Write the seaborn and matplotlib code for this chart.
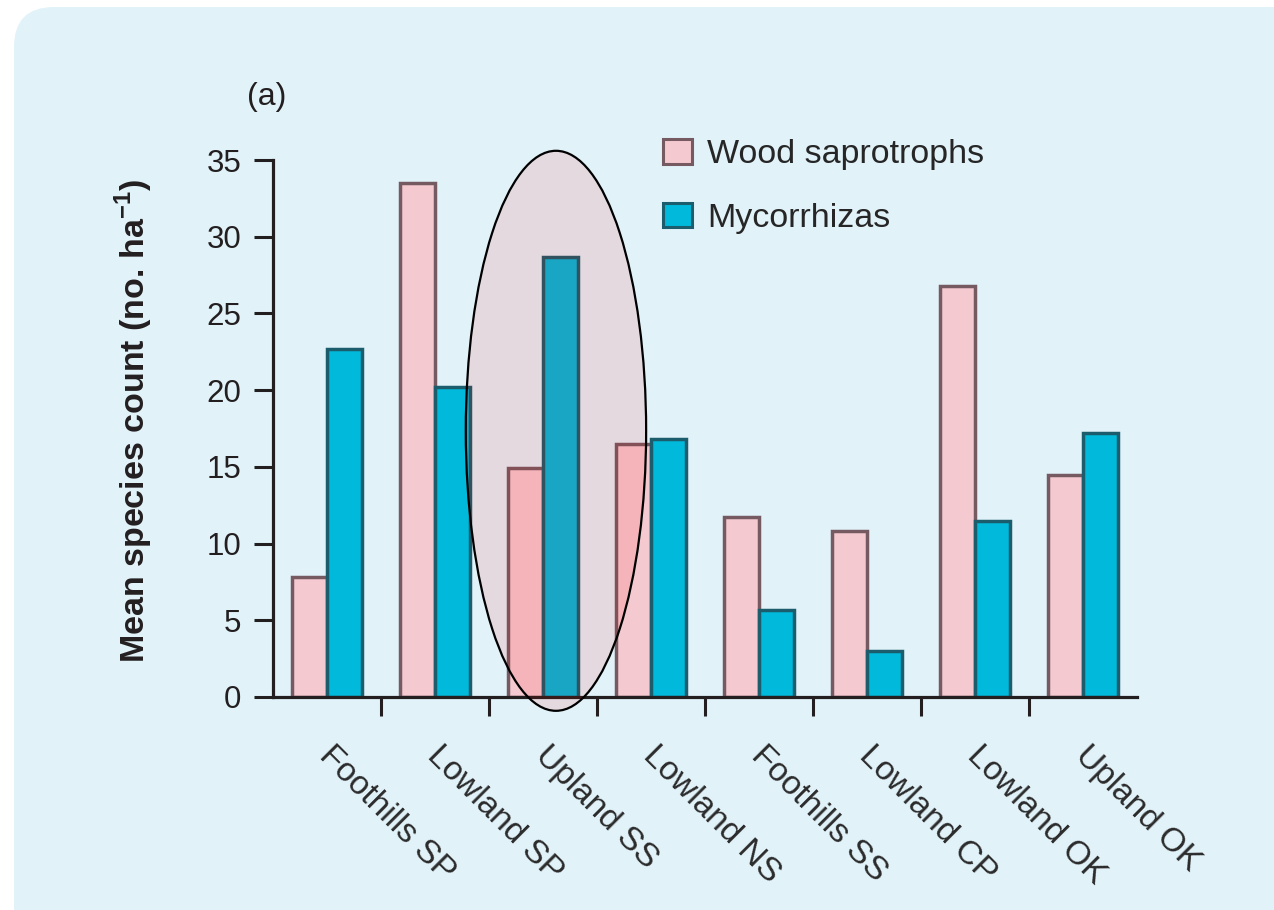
import numpy as np
import pandas as pd
import matplotlib
matplotlib.use("Agg")
import matplotlib.pyplot as plt
import matplotlib.patches as mpatches
from matplotlib.transforms import IdentityTransform, ScaledTranslation
import seaborn as sns

####################################################################################################
# data

sites = ["Foothills SP", "Lowland SP", "Upland SS", "Lowland NS",
         "Foothills SS", "Lowland CP", "Lowland OK", "Upland OK"]
wood_saprotrophs = [7.8, 33.5, 14.9, 16.5, 11.7, 10.8, 26.8, 14.5]
mycorrhizas = [22.7, 20.2, 28.7, 16.8, 5.7, 3.0, 11.5, 17.2]
groups = ["Wood saprotrophs", "Mycorrhizas"]
y_ticks = [0, 5, 10, 15, 20, 25, 30, 35]

####################################################################################################

BG = "#e1f2f9"
INK = "#231f20"
fills = {"Wood saprotrophs": "#f4c9d0", "Mycorrhizas": "#00b9db"}
edges = {"Wood saprotrophs": "#765a61", "Mycorrhizas": "#1b5d6c"}

sns.set_style("white")
plt.rcParams["font.family"] = ["Liberation Sans", "DejaVu Sans"]
plt.rcParams["mathtext.fontset"] = "custom"
plt.rcParams["mathtext.rm"] = "Liberation Sans"
plt.rcParams["mathtext.bf"] = "Liberation Sans:bold"

df = pd.DataFrame({
    "site": sites * 2,
    "count": wood_saprotrophs + mycorrhizas,
    "group": [groups[0]] * len(sites) + [groups[1]] * len(sites),
})

fig = plt.figure(figsize=(12.74, 9.10), dpi=100, facecolor="white")

# rounded light-blue panel behind everything (pixel coordinates)
panel = mpatches.FancyBboxPatch(
    (14, -60), 1320, 910 - 7 + 60,
    boxstyle="round,pad=0,rounding_size=40",
    transform=IdentityTransform(), facecolor=BG, edgecolor="none", zorder=-10,
)
fig.patches.append(panel)

ax = fig.add_axes([273 / 1274, 1 - 697 / 910, 864 / 1274, 537 / 910])
ax.set_facecolor("none")

sns.barplot(
    data=df, x="site", y="count", hue="group", order=sites, hue_order=groups,
    palette=fills, width=0.65, saturation=1, errorbar=None, ax=ax, legend=False,
    linewidth=2.5,
)
for cont, g in zip(ax.containers, groups):
    for bar in cont:
        bar.set_edgecolor(edges[g])
        bar.set_zorder(2)

ax.set_xlim(-0.5, 7.5)
ax.set_ylim(0, 35)
ax.set_yticks(y_ticks)
ax.set_xlabel("")

# highlighted Upland SS group
ell = mpatches.Ellipse((2.12, 17.35), 1.67, 36.5, facecolor=(0.96, 0.01, 0.0, 0.1),
                       edgecolor="black", linewidth=1.6, clip_on=False, zorder=5)
ax.add_patch(ell)

sns.despine(ax=ax)
for side in ["left", "bottom"]:
    ax.spines[side].set_linewidth(2.3)
    ax.spines[side].set_color(INK)

ax.tick_params(axis="y", direction="out", length=14, width=2.2, color=INK,
               labelsize=22.5, labelcolor=INK, pad=9, left=True)
ax.set_xticks(np.arange(0.5, 7, 1), minor=True)
ax.tick_params(axis="x", which="minor", direction="out", length=14, width=2.2,
               color=INK, bottom=True)
ax.tick_params(axis="x", which="major", length=0, pad=31, labelsize=24,
               labelcolor="#2b2b2b")
plt.setp(ax.get_xticklabels(), rotation=-45, ha="left", va="top",
         rotation_mode="anchor")
shift = ScaledTranslation(8 / 100, 0, fig.dpi_scale_trans)
for lab in ax.get_xticklabels():
    lab.set_transform(lab.get_transform() + shift)

ax.set_ylabel(r"Mean species count (no. ha$^{\mathbf{-1}}$)", fontsize=24.5,
              fontweight="bold", color=INK)
ax.yaxis.set_label_coords(-0.137, 0.514)

handles = [mpatches.Patch(facecolor=fills[g], edgecolor=edges[g], linewidth=2.2)
           for g in groups]
ax.legend(handles, groups, loc="upper left", bbox_to_anchor=(663 / 1274, 1 - 139 / 910),
          bbox_transform=fig.transFigure, frameon=False, fontsize=24.5,
          handlelength=0.85, handleheight=0.74, handletextpad=0.44, labelspacing=0.95,
          borderaxespad=0, borderpad=0)

fig.text(247 / 1274, 1 - 97 / 910, "(a)", fontsize=23, color=INK, ha="left", va="center")

fig.savefig("out.png", dpi=100, facecolor="white")
